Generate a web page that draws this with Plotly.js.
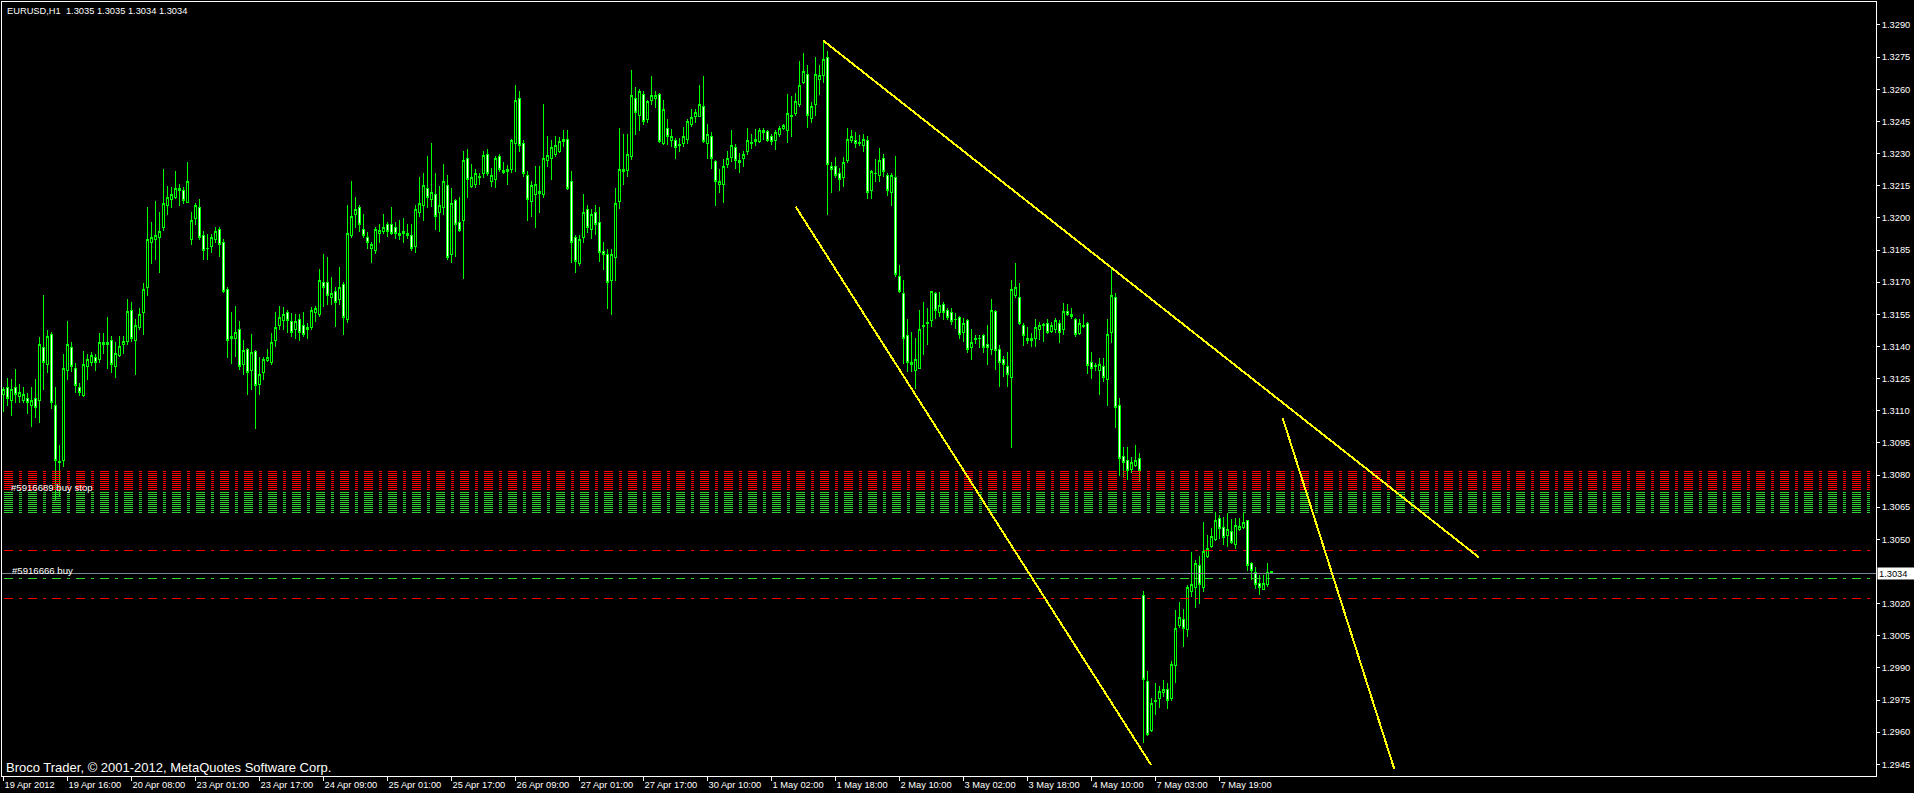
<!DOCTYPE html>
<html>
<head>
<meta charset="utf-8">
<script src="https://cdn.plot.ly/plotly-3.0.1.min.js"></script>
<style>
  html, body { margin: 0; padding: 0; background: #000; overflow: hidden; }
  #chart { width: 1914px; height: 793px; }
  #chart svg path { shape-rendering: crispEdges; }
</style>
</head>
<body>
<div id="chart"></div>
<script>
// EURUSD hourly candles, 19 Apr 2012 00:00 .. 8 May 2012 07:00 (weekends skipped)
const symbol = 'EURUSD,H1';

const timeLabels = ['19 Apr 2012', '19 Apr 16:00', '20 Apr 08:00', '23 Apr 01:00', '23 Apr 17:00',
  '24 Apr 09:00', '25 Apr 01:00', '25 Apr 17:00', '26 Apr 09:00', '27 Apr 01:00', '27 Apr 17:00',
  '30 Apr 10:00', '1 May 02:00', '1 May 18:00', '2 May 10:00', '3 May 02:00', '3 May 18:00',
  '4 May 10:00', '7 May 03:00', '7 May 19:00'];

const priceTicks = [1.2945, 1.2960, 1.2975, 1.2990, 1.3005, 1.3020, 1.3050, 1.3065, 1.3080,
  1.3095, 1.3110, 1.3125, 1.3140, 1.3155, 1.3170, 1.3185, 1.3200, 1.3215, 1.3230, 1.3245,
  1.3260, 1.3275, 1.3290];

const open = [
1.31178,1.31209,1.31146,1.31209,1.31165,1.31146,1.31159,1.31123,1.31157,1.31146,
1.31395,1.31314,1.31458,1.31123,1.30862,1.30867,1.31286,1.31395,1.31297,1.31210,
1.31173,1.31305,1.31324,1.31349,1.31339,1.31408,1.31420,1.31428,1.31305,1.31356,
1.31409,1.31425,1.31568,1.31427,1.31489,1.31558,1.31674,1.31884,1.31898,1.31909,
1.31954,1.32058,1.32085,1.32096,1.32127,1.32128,1.32074,1.31900,1.31998,1.32049,
1.31917,1.31859,1.31865,1.31900,1.31946,1.31887,1.31666,1.31436,1.31435,1.31480,
1.31318,1.31386,1.31286,1.31375,1.31224,1.31277,1.31336,1.31324,1.31427,1.31497,
1.31523,1.31559,1.31517,1.31477,1.31526,1.31500,1.31480,1.31489,1.31558,1.31548,
1.31699,1.31699,1.31629,1.31656,1.31620,1.31690,1.31526,1.31918,1.32016,1.32049,
1.31946,1.31909,1.31856,1.31848,1.31928,1.31936,1.31971,1.31971,1.31956,1.31929,
1.31925,1.31929,1.31918,1.31866,1.32024,1.32058,1.32138,1.32086,1.32111,1.32024,
1.32049,1.32149,1.31828,1.32079,1.31979,1.31987,1.32278,1.32146,1.32156,1.32192,
1.32206,1.32298,1.32170,1.32180,1.32287,1.32219,1.32217,1.32226,1.32348,1.32558,
1.32348,1.32198,1.32076,1.32110,1.32116,1.32110,1.32267,1.32278,1.32295,1.32311,
1.32357,1.32366,1.32170,1.31909,1.31788,1.31909,1.32040,1.31946,1.32027,1.31979,
1.31841,1.31831,1.31707,1.31816,1.32076,1.32226,1.32219,1.32286,1.32558,1.32478,
1.32578,1.32457,1.32547,1.32556,1.32578,1.32346,1.32418,1.32363,1.32359,1.32342,
1.32346,1.32365,1.32435,1.32475,1.32475,1.32520,1.32346,1.32381,1.32261,1.32156,
1.32156,1.32248,1.32284,1.32329,1.32270,1.32276,1.32309,1.32351,1.32356,1.32356,
1.32410,1.32401,1.32382,1.32363,1.32390,1.32415,1.32407,1.32478,1.32486,1.32530,
1.32634,1.32671,1.32466,1.32528,1.32646,1.32662,1.32749,1.32242,1.32242,1.32208,
1.32188,1.32267,1.32359,1.32359,1.32351,1.32340,1.32359,1.32129,1.32208,1.32197,
1.32278,1.32198,1.32119,1.32189,1.31725,1.31648,1.31449,1.31317,1.31290,1.31298,
1.31500,1.31505,1.31519,1.31648,1.31558,1.31598,1.31570,1.31559,1.31527,1.31536,
1.31464,1.31519,1.31394,1.31433,1.31438,1.31449,1.31410,1.31386,1.31561,1.31386,
1.31341,1.31306,1.31254,1.31637,1.31629,1.31500,1.31438,1.31430,1.31436,1.31480,
1.31498,1.31508,1.31469,1.31477,1.31508,1.31480,1.31561,1.31551,1.31526,1.31461,
1.31495,1.31508,1.31324,1.31309,1.31290,1.31306,1.31246,1.31464,1.31629,1.31124,
1.30887,1.30867,1.30826,1.30845,1.30878,1.30237,1.29836,1.29610,1.29745,1.29758,
1.29784,1.29797,1.29758,1.29909,1.30100,1.30127,1.30077,1.30256,1.30276,1.30380,
1.30276,1.30422,1.30466,1.30500,1.30598,1.30556,1.30517,1.30536,1.30475,1.30548,
1.30556,1.30587,1.30388,1.30346,1.30294,1.30266,1.30287,1.30350];

const high = [
1.31212,1.31255,1.31246,1.31297,1.31227,1.31209,1.31184,1.31209,1.31248,1.31445,
1.31640,1.31479,1.31469,1.31209,1.30940,1.31367,1.31517,1.31420,1.31324,1.31230,
1.31380,1.31367,1.31375,1.31367,1.31461,1.31464,1.31536,1.31448,1.31422,1.31448,
1.31448,1.31620,1.31606,1.31526,1.31578,1.31698,1.32049,1.31981,1.32079,1.32027,
1.32228,1.32150,1.32146,1.32219,1.32158,1.32146,1.32261,1.32027,1.32071,1.32086,
1.31940,1.31925,1.31925,1.31956,1.31959,1.31903,1.31679,1.31561,1.31589,1.31519,
1.31430,1.31391,1.31456,1.31383,1.31352,1.31352,1.31390,1.31464,1.31559,1.31589,
1.31586,1.31570,1.31558,1.31551,1.31551,1.31559,1.31511,1.31586,1.31590,1.31760,
1.31831,1.31816,1.31726,1.31676,1.31769,1.31699,1.32060,1.32172,1.32096,1.32060,
1.32018,1.31936,1.31889,1.31956,1.31971,1.32018,1.31979,1.32049,1.31979,1.31990,
1.31998,1.31971,1.31971,1.32060,1.32192,1.32209,1.32289,1.32348,1.32209,1.32149,
1.32251,1.32200,1.32138,1.32086,1.32099,1.32312,1.32321,1.32251,1.32226,1.32209,
1.32312,1.32321,1.32231,1.32289,1.32298,1.32259,1.32247,1.32366,1.32620,1.32592,
1.32363,1.32220,1.32172,1.32242,1.32242,1.32531,1.32382,1.32363,1.32382,1.32379,
1.32410,1.32410,1.32219,1.31920,1.31920,1.32111,1.32060,1.32040,1.32060,1.32049,
1.31889,1.31853,1.31856,1.32141,1.32418,1.32391,1.32391,1.32690,1.32609,1.32601,
1.32594,1.32550,1.32662,1.32592,1.32581,1.32550,1.32461,1.32413,1.32371,1.32371,
1.32426,1.32460,1.32510,1.32508,1.32620,1.32662,1.32438,1.32401,1.32270,1.32226,
1.32273,1.32314,1.32410,1.32343,1.32301,1.32314,1.32418,1.32391,1.32413,1.32418,
1.32418,1.32410,1.32391,1.32410,1.32430,1.32438,1.32577,1.32569,1.32584,1.32732,
1.32768,1.32713,1.32541,1.32749,1.32713,1.32827,1.32779,1.32262,1.32286,1.32231,
1.32282,1.32418,1.32410,1.32401,1.32387,1.32391,1.32382,1.32223,1.32273,1.32324,
1.32298,1.32211,1.32211,1.32289,1.31780,1.31710,1.31528,1.31469,1.31438,1.31570,
1.31606,1.31578,1.31656,1.31656,1.31656,1.31606,1.31581,1.31578,1.31558,1.31544,
1.31531,1.31527,1.31480,1.31453,1.31453,1.31458,1.31500,1.31620,1.31570,1.31407,
1.31355,1.31376,1.31710,1.31788,1.31694,1.31511,1.31492,1.31464,1.31526,1.31516,
1.31511,1.31526,1.31516,1.31531,1.31523,1.31604,1.31598,1.31578,1.31531,1.31526,
1.31550,1.31516,1.31376,1.31321,1.31344,1.31344,1.31526,1.31772,1.31651,1.31158,
1.30932,1.30932,1.30886,1.30940,1.30904,1.30260,1.29887,1.29758,1.29828,1.29815,
1.29843,1.29828,1.29932,1.30170,1.30209,1.30173,1.30287,1.30442,1.30403,1.30422,
1.30582,1.30520,1.30551,1.30629,1.30613,1.30602,1.30621,1.30593,1.30598,1.30598,
1.30629,1.30590,1.30396,1.30372,1.30333,1.30333,1.30388,1.30350];

const low = [
1.31095,1.31122,1.31075,1.31134,1.31134,1.31134,1.31084,1.31025,1.31064,1.31044,
1.31199,1.31274,1.31106,1.30683,1.30699,1.30836,1.31243,1.31283,1.31181,1.31168,
1.31162,1.31243,1.31310,1.31286,1.31324,1.31367,1.31296,1.31274,1.31254,1.31349,
1.31367,1.31409,1.31420,1.31267,1.31477,1.31453,1.31635,1.31786,1.31803,1.31744,
1.31939,1.32013,1.32044,1.32086,1.32057,1.32065,1.32074,1.31873,1.31967,1.31897,
1.31803,1.31803,1.31838,1.31881,1.31816,1.31648,1.31344,1.31318,1.31349,1.31290,
1.31267,1.31173,1.31199,1.31016,1.31173,1.31243,1.31327,1.31312,1.31399,1.31477,
1.31477,1.31461,1.31445,1.31433,1.31425,1.31445,1.31436,1.31477,1.31516,1.31536,
1.31586,1.31593,1.31593,1.31489,1.31593,1.31453,1.31508,1.31908,1.31951,1.31936,
1.31908,1.31855,1.31788,1.31831,1.31884,1.31925,1.31909,1.31918,1.31900,1.31897,
1.31884,1.31900,1.31847,1.31838,1.32006,1.31987,1.32044,1.32052,1.31943,1.31936,
1.32013,1.31803,1.31788,1.31816,1.31936,1.31715,1.32094,1.32138,1.32138,1.32153,
1.32184,1.32195,1.32146,1.32138,1.32216,1.32205,1.32153,1.32208,1.32216,1.32309,
1.32192,1.31987,1.32006,1.31954,1.32024,1.32091,1.32239,1.32177,1.32286,1.32301,
1.32329,1.32130,1.31788,1.31744,1.31775,1.31884,1.31928,1.31900,1.31920,1.31794,
1.31757,1.31576,1.31547,1.31707,1.32040,1.32155,1.32192,1.32270,1.32387,1.32405,
1.32433,1.32441,1.32527,1.32511,1.32348,1.32340,1.32340,1.32329,1.32276,1.32309,
1.32332,1.32345,1.32426,1.32444,1.32469,1.32348,1.32276,1.32226,1.32057,1.32115,
1.32068,1.32231,1.32262,1.32226,1.32208,1.32239,1.32293,1.32320,1.32335,1.32348,
1.32363,1.32356,1.32340,1.32317,1.32379,1.32410,1.32348,1.32379,1.32475,1.32519,
1.32625,1.32418,1.32444,1.32475,1.32573,1.32628,1.32013,1.32118,1.32185,1.32127,
1.32146,1.32258,1.32348,1.32324,1.32335,1.32309,1.32086,1.32086,1.32169,1.32169,
1.32192,1.32104,1.32057,1.31725,1.31648,1.31317,1.31282,1.31282,1.31200,1.31293,
1.31360,1.31407,1.31492,1.31527,1.31539,1.31524,1.31524,1.31500,1.31480,1.31433,
1.31422,1.31368,1.31337,1.31411,1.31391,1.31368,1.31313,1.31360,1.31290,1.31209,
1.31259,1.31212,1.30928,1.31624,1.31500,1.31402,1.31411,1.31399,1.31396,1.31430,
1.31422,1.31456,1.31464,1.31461,1.31418,1.31453,1.31544,1.31526,1.31446,1.31453,
1.31484,1.31271,1.31246,1.31287,1.31173,1.31236,1.31122,1.31418,1.31018,1.30795,
1.30789,1.30777,1.30811,1.30839,1.30766,1.29550,1.29582,1.29602,1.29680,1.29711,
1.29766,1.29706,1.29747,1.29831,1.30084,1.29999,1.30046,1.30232,1.30178,1.30198,
1.30256,1.30411,1.30458,1.30494,1.30500,1.30473,1.30462,1.30478,1.30453,1.30540,
1.30546,1.30354,1.30310,1.30266,1.30240,1.30263,1.30276,1.30340];

const close = [
1.31199,1.31156,1.31199,1.31174,1.31185,1.31178,1.31137,1.31150,1.31114,1.31411,
1.31324,1.31448,1.31137,1.30867,1.30857,1.31297,1.31409,1.31305,1.31216,1.31184,
1.31318,1.31339,1.31358,1.31324,1.31420,1.31419,1.31411,1.31316,1.31367,1.31398,
1.31422,1.31561,1.31436,1.31498,1.31551,1.31666,1.31900,1.31909,1.31918,1.31937,
1.32068,1.32096,1.32111,1.32138,1.32138,1.32083,1.32170,1.31990,1.32060,1.31909,
1.31848,1.31856,1.31909,1.31936,1.31876,1.31656,1.31427,1.31446,1.31464,1.31305,
1.31380,1.31277,1.31371,1.31217,1.31269,1.31339,1.31349,1.31420,1.31489,1.31537,
1.31551,1.31523,1.31464,1.31517,1.31464,1.31455,1.31489,1.31568,1.31579,1.31710,
1.31674,1.31637,1.31648,1.31604,1.31676,1.31536,1.31928,1.32007,1.32040,1.31970,
1.31918,1.31884,1.31878,1.31946,1.31939,1.31956,1.31936,1.31928,1.31925,1.31918,
1.31937,1.31918,1.31856,1.32040,1.32068,1.32149,1.32096,1.32118,1.32006,1.32058,
1.32170,1.31816,1.32068,1.31970,1.31943,1.32270,1.32180,1.32189,1.32208,1.32188,
1.32289,1.32206,1.32198,1.32278,1.32225,1.32212,1.32226,1.32360,1.32550,1.32338,
1.32208,1.32086,1.32149,1.32156,1.32122,1.32278,1.32289,1.32329,1.32337,1.32357,
1.32366,1.32138,1.31884,1.31796,1.31900,1.32027,1.31956,1.32018,1.31970,1.31838,
1.31830,1.31699,1.31831,1.32068,1.32226,1.32216,1.32298,1.32569,1.32494,1.32590,
1.32449,1.32542,1.32569,1.32569,1.32356,1.32508,1.32379,1.32382,1.32329,1.32337,
1.32382,1.32452,1.32469,1.32491,1.32531,1.32356,1.32390,1.32276,1.32169,1.32172,
1.32242,1.32278,1.32339,1.32267,1.32258,1.32298,1.32359,1.32345,1.32366,1.32410,
1.32398,1.32363,1.32357,1.32398,1.32418,1.32429,1.32488,1.32475,1.32541,1.32620,
1.32681,1.32478,1.32522,1.32671,1.32662,1.32740,1.32250,1.32226,1.32200,1.32180,
1.32259,1.32366,1.32379,1.32348,1.32345,1.32366,1.32118,1.32217,1.32205,1.32270,
1.32217,1.32129,1.32200,1.31736,1.31656,1.31438,1.31326,1.31327,1.31340,1.31480,
1.31495,1.31511,1.31656,1.31570,1.31589,1.31558,1.31536,1.31516,1.31524,1.31458,
1.31508,1.31386,1.31419,1.31438,1.31435,1.31396,1.31394,1.31570,1.31379,1.31324,
1.31316,1.31267,1.31666,1.31676,1.31508,1.31449,1.31427,1.31438,1.31489,1.31498,
1.31503,1.31467,1.31500,1.31519,1.31464,1.31561,1.31548,1.31539,1.31456,1.31505,
1.31500,1.31313,1.31298,1.31306,1.31316,1.31254,1.31456,1.31640,1.31116,1.30878,
1.30859,1.30820,1.30859,1.30870,1.30819,1.29846,1.29587,1.29735,1.29750,1.29789,
1.29797,1.29750,1.29916,1.30084,1.30136,1.30084,1.30276,1.30287,1.30388,1.30287,
1.30442,1.30458,1.30512,1.30590,1.30551,1.30509,1.30546,1.30484,1.30565,1.30559,
1.30578,1.30379,1.30354,1.30287,1.30276,1.30294,1.30344,1.30340];

// pending buy stop order band (stop-loss rows in red, entry rows in green)
const buyStopRedLevels = [1.30815, 1.30806, 1.30797, 1.30788, 1.30778, 1.30769, 1.30759, 1.30750, 1.30741, 1.30732];
const buyStopGreenLevels = [1.30719, 1.30710, 1.30700, 1.30691, 1.30682, 1.30672, 1.30663, 1.30654, 1.30644, 1.30635, 1.30626];
// open buy order: entry, take profit, stop loss
const buyEntry = 1.30319;
const buyTakeProfit = 1.30450;
const buyStopLoss = 1.30225;

// hand-drawn trendlines: [bar index], [price]
const trendUpperX = [204.95, 368.9], trendUpperY = [1.32827, 1.30415];
const trendLowerX = [198.05, 286.9], trendLowerY = [1.32052, 1.29447];
const trendSteepX = [319.8, 347.7], trendSteepY = [1.31065, 1.29428];

const orderLabels = ['#5916689 buy stop', '#5916666 buy'];
const orderLabelPrices = [1.30744, 1.30355];
const copyrightText = 'Broco Trader, \u00a9 2001-2012, MetaQuotes Software Corp.';

// ---- geometry of the chart window ----
const W = 1914, H = 793;
const margin = { l: 2, r: 38, t: 2, b: 17 };
const plotW = W - margin.l - margin.r;
const barPx = 4;                 // one hourly bar per 4 screen pixels
const labelEvery = 16;           // one time label every 16 bars
const xMin = -0.375;
const xMax = xMin + plotW / barPx;
const yMin = 1.293954, yMax = 1.330073;

const idx = open.map((_, i) => i);
const last = close.length - 1;

const LIME = '#00ff00';
const FONT = 'Liberation Sans, Arial, sans-serif';
const paperX = px => (px - margin.l) / plotW;

const traces = [
  {
    type: 'candlestick',
    x: idx, open: open, high: high, low: low, close: close,
    increasing: { line: { color: LIME, width: 1 }, fillcolor: '#000000' },
    decreasing: { line: { color: LIME, width: 1 }, fillcolor: '#ffffff' },
    whiskerwidth: 0,
    hoverinfo: 'skip',
    showlegend: false
  }
];

const dashDot = '9px,6px,3px,6px';
function level(y, color, dash) {
  return {
    type: 'line', xref: 'paper', yref: 'y',
    x0: paperX(4), x1: paperX(1870), y0: y, y1: y,
    line: { color: color, width: 1, dash: dash }
  };
}
function trend(xs, ys) {
  return {
    type: 'line', xref: 'x', yref: 'y',
    x0: xs[0], x1: xs[1], y0: ys[0], y1: ys[1],
    line: { color: '#ffff00', width: 2 }
  };
}

const shapes = [];
buyStopRedLevels.forEach(y => shapes.push(level(y, '#ff0000', dashDot)));
buyStopGreenLevels.forEach(y => shapes.push(level(y, '#32cd32', dashDot)));
shapes.push(level(buyTakeProfit, '#ff0000', dashDot));
shapes.push(level(buyStopLoss, '#ff0000', dashDot));
shapes.push(level(buyEntry, '#32cd32', dashDot));
// bid line at the last price
shapes.push({
  type: 'line', xref: 'paper', yref: 'y', x0: 0, x1: 1,
  y0: close[last], y1: close[last], line: { color: '#778899', width: 1 }
});
shapes.push(trend(trendUpperX, trendUpperY));
shapes.push(trend(trendLowerX, trendLowerY));
shapes.push(trend(trendSteepX, trendSteepY));

const fmt = v => v.toFixed(4);
const headerText = symbol + '\u00a0\u00a0' +
  [open[last], high[last], low[last], close[last]].map(fmt).join(' ');

const annotations = [
  {
    xref: 'paper', yref: 'y', x: 0, xshift: 7, y: orderLabelPrices[0],
    xanchor: 'left', yanchor: 'middle', showarrow: false,
    text: orderLabels[0], font: { family: FONT, size: 9.6, color: '#ffffff' }
  },
  {
    xref: 'paper', yref: 'y', x: 0, xshift: 8, y: orderLabelPrices[1],
    xanchor: 'left', yanchor: 'middle', showarrow: false,
    text: orderLabels[1], font: { family: FONT, size: 9.6, color: '#ffffff' }
  },
  {
    xref: 'paper', yref: 'paper', x: 0, xshift: 2, y: 0, yshift: -1,
    xanchor: 'left', yanchor: 'bottom', showarrow: false,
    text: copyrightText, font: { family: FONT, size: 13, color: '#ffffff' }
  },
  {
    xref: 'paper', yref: 'y', x: 1, xshift: 1, y: close[last],
    xanchor: 'left', yanchor: 'middle', showarrow: false,
    text: fmt(close[last]), bgcolor: '#ffffff', borderpad: 1,
    width: 35, height: 9, align: 'left',
    font: { family: FONT, size: 9.3, color: '#000000' }
  }
];

const layout = {
  width: W, height: H,
  margin: margin,
  paper_bgcolor: '#000000',
  plot_bgcolor: '#000000',
  showlegend: false,
  boxgap: 0.5,
  boxgroupgap: 0,
  title: {
    text: headerText,
    xref: 'container', yref: 'container',
    x: 7 / W, y: 1 - 10.5 / H, xanchor: 'left', yanchor: 'middle',
    font: { family: FONT, size: 9.3, color: '#ffffff' }
  },
  xaxis: {
    range: [xMin, xMax],
    rangeslider: { visible: false },
    showgrid: false, zeroline: false,
    showline: true, linecolor: '#ffffff', linewidth: 1, mirror: true,
    ticks: 'outside', ticklen: 4, tickcolor: '#ffffff', tickwidth: 1,
    tickmode: 'array',
    tickvals: timeLabels.map((_, k) => k * labelEvery),
    ticktext: timeLabels,
    ticklabelposition: 'outside right',
    tickfont: { family: FONT, size: 9.3, color: '#ffffff' },
    fixedrange: true
  },
  yaxis: {
    range: [yMin, yMax],
    side: 'right',
    showgrid: false, zeroline: false,
    showline: true, linecolor: '#ffffff', linewidth: 1, mirror: true,
    ticks: 'outside', ticklen: 3, tickcolor: '#ffffff', tickwidth: 1,
    tickmode: 'array', tickvals: priceTicks, ticktext: priceTicks.map(fmt),
    tickfont: { family: FONT, size: 9.3, color: '#ffffff' },
    fixedrange: true
  },
  shapes: shapes,
  annotations: annotations
};

Plotly.newPlot('chart', traces, layout, { staticPlot: true, displayModeBar: false });
</script>
</body>
</html>
